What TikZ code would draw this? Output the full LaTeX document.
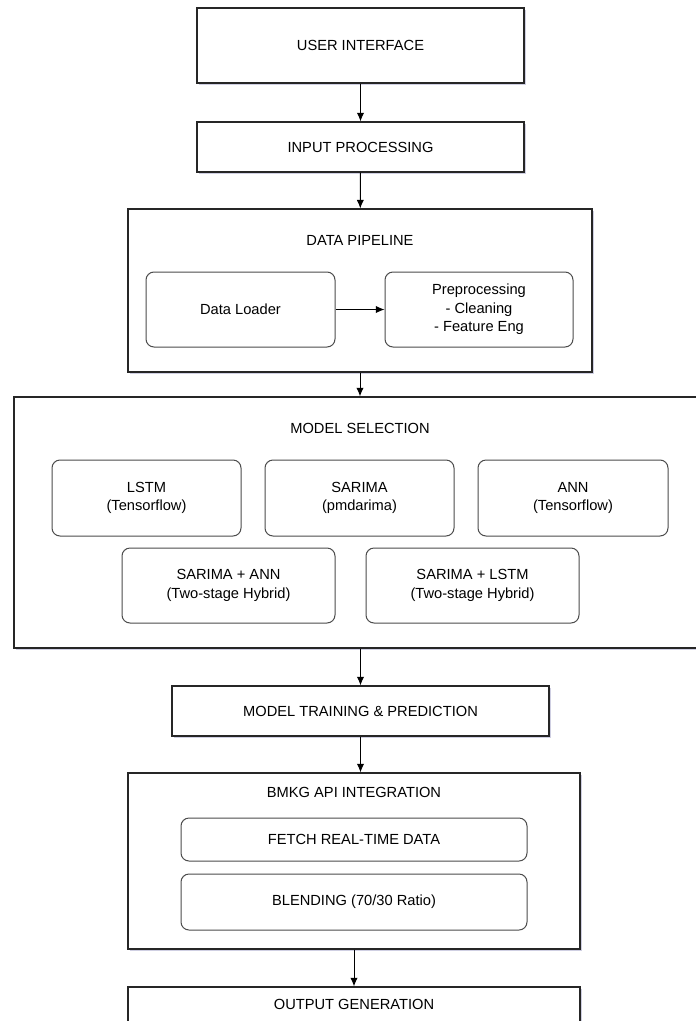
\documentclass[tikz,border=0pt]{standalone}
\usepackage{fontspec}
\setmainfont{Liberation Sans}
\usepackage{tikz}
\usetikzlibrary{shapes.geometric,arrows,arrows.meta}
\usetikzlibrary{shadows}
\tikzstyle{block}=[rectangle, draw=black!85, line width=0.8pt, fill=white, inner sep=0pt, text centered, drop shadow={shadow xshift=1.2pt, shadow yshift=-1.8pt, opacity=0.3, fill=blue!25!gray}]
\tikzstyle{part}=[rectangle, rounded corners=6pt, draw=black!70, line width=0.75pt, fill=white, inner sep=0pt, align=center]
\tikzstyle{label}=[inner sep=0pt, align=center]
\tikzstyle{flow}=[-{Latex[length=6.5pt, width=5.5pt]}, line width=0.75pt, black]

\begin{document}
\begin{tikzpicture}[x=0.75pt, y=-0.75pt, font=\fontsize{11}{14}\selectfont]
\useasboundingbox (0,0) rectangle (696,1021);
\node[block, minimum width=327*0.75pt, minimum height=75*0.75pt] (ui) at (360.5,45.5) {USER INTERFACE};
\node[block, minimum width=327*0.75pt, minimum height=50*0.75pt] (inp) at (360.5,147) {INPUT PROCESSING};
\node[block, minimum width=464*0.75pt, minimum height=163*0.75pt] (pipe) at (360,290.5) {};
\node[label] (pipet) at (360,240) {DATA PIPELINE};
\node[part, minimum width=189*0.75pt, minimum height=75*0.75pt] (loader) at (240.5,309.5) {Data Loader};
\node[part, minimum width=188*0.75pt, minimum height=75*0.75pt] (prep) at (479,309.5) {Preprocessing\\- Cleaning\\- Feature Eng};
\node[block, minimum width=690*0.75pt, minimum height=251*0.75pt] (sel) at (359,522.5) {};
\node[label] (selt) at (360,428) {MODEL SELECTION};
\node[part, minimum width=189*0.75pt, minimum height=76*0.75pt] (lstm) at (146.5,498) {LSTM\\(Tensorflow)};
\node[part, minimum width=189*0.75pt, minimum height=76*0.75pt] (sarima) at (359.5,498) {SARIMA\\(pmdarima)};
\node[part, minimum width=190*0.75pt, minimum height=76*0.75pt] (ann) at (573,498) {ANN\\(Tensorflow)};
\node[part, minimum width=213*0.75pt, minimum height=75*0.75pt] (sann) at (228.5,585.5) {SARIMA + ANN\\(Two-stage Hybrid)};
\node[part, minimum width=213*0.75pt, minimum height=75*0.75pt] (slstm) at (472.5,585.5) {SARIMA + LSTM\\(Two-stage Hybrid)};
\node[block, minimum width=377*0.75pt, minimum height=50*0.75pt] (train) at (360.5,711) {MODEL TRAINING \& PREDICTION};
\node[block, minimum width=452*0.75pt, minimum height=176*0.75pt] (bmkg) at (354,861) {};
\node[label] (bmkgt) at (354,792) {BMKG API INTEGRATION};
\node[part, minimum width=346*0.75pt, minimum height=43*0.75pt] (fetch) at (354,839.5) {FETCH REAL-TIME DATA};
\node[part, minimum width=346*0.75pt, minimum height=56*0.75pt] (blend) at (354,902) {BLENDING (70/30 Ratio)};
\node[block, minimum width=452*0.75pt, minimum height=80*0.75pt] (out) at (354,1027) {};
\node[label] (outt) at (354,1004) {OUTPUT GENERATION};
\draw[flow] (ui) to (inp);
\draw[flow] (inp) to (pipe);
\draw[flow] (loader) to (prep);
\draw[flow] (pipe.south) to (pipe.south |- sel.north);
\draw[flow] (train.north |- sel.south) to (train);
\draw[flow] (train) to (train.south |- bmkg.north);
\draw[flow] (bmkg) to (out);
\end{tikzpicture}
\end{document}
